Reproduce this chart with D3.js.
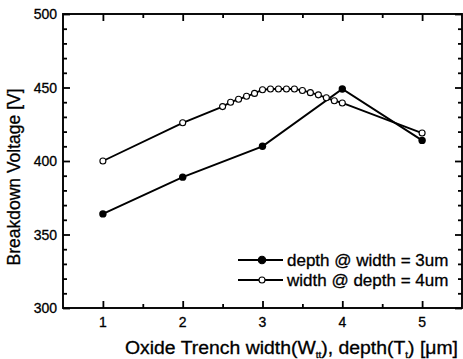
<!DOCTYPE html>
<html>
<head>
<meta charset="utf-8">
<script src="https://cdn.jsdelivr.net/npm/d3@7"></script>
<style>
  body { margin: 0; background: #fff; }
  text { font-family: "Liberation Sans", Arial, sans-serif; fill: #000; stroke: #000; stroke-width: 0.3px; }
</style>
</head>
<body>
<div id="chart"></div>
<script>
// depth @ width = 3um (filled markers)
var depthX = [1, 2, 3, 4, 5];
var depthY = [364, 389, 410, 449, 414];

// width @ depth = 4um (open markers)
var widthX = [1, 2, 2.5, 2.6, 2.7, 2.8, 2.9, 3.0, 3.1, 3.2, 3.3, 3.4, 3.5, 3.6, 3.7, 3.8, 3.9, 4.0, 5];
var widthY = [400, 426, 437, 440, 442, 444, 446, 448.5, 449, 449, 449, 449, 448, 446.5, 445, 443, 441, 439.5, 419];

var xTicks = [1, 2, 3, 4, 5];
var yTicks = [300, 350, 400, 450, 500];
var legendLabels = ["depth @ width = 3um", "width @ depth = 4um"];

var W = 463, H = 359;
var margin = {top: 14, right: 1, bottom: 51, left: 63},
    width = W - margin.left - margin.right,
    height = H - margin.top - margin.bottom;

var svg = d3.select("#chart").append("svg")
    .attr("width", W).attr("height", H)
  .append("g")
    .attr("transform", "translate(" + margin.left + "," + margin.top + ")");

var x = d3.scaleLinear().domain([0.5, 5.5]).range([0, width]);
var y = d3.scaleLinear().domain([300, 500]).range([height, 0]);

var xMinor = [1.5, 2.5, 3.5, 4.5];
var yMinor = d3.range(310, 500, 10).filter(function(d) { return yTicks.indexOf(d) < 0; });

// inward ticks on all four sides, drawn with d3 axes
function addAxis(axis, vals, size, tx, ty) {
  var g = svg.append("g")
      .attr("transform", "translate(" + tx + "," + ty + ")")
      .call(axis.tickValues(vals).tickSize(size).tickSizeOuter(0).tickFormat(""));
  g.select(".domain").remove();
  g.selectAll(".tick line").attr("stroke", "#000").attr("stroke-width", 1.8);
}
addAxis(d3.axisBottom(x), xTicks, -7, 0, height);
addAxis(d3.axisBottom(x), xMinor, -4, 0, height);
addAxis(d3.axisTop(x), xTicks, -7, 0, 0);
addAxis(d3.axisTop(x), xMinor, -4, 0, 0);
addAxis(d3.axisLeft(y), yTicks, -7, 0, 0);
addAxis(d3.axisLeft(y), yMinor, -4, 0, 0);
addAxis(d3.axisRight(y), yTicks, -7, width, 0);
addAxis(d3.axisRight(y), yMinor, -4, width, 0);

// frame
svg.append("rect")
    .attr("width", width).attr("height", height)
    .attr("fill", "none").attr("stroke", "#000").attr("stroke-width", 1.9);

// tick labels
svg.selectAll(".xl").data(xTicks).enter().append("text")
    .attr("x", function(d) { return x(d); })
    .attr("y", height + 19)
    .attr("text-anchor", "middle")
    .attr("font-size", 14)
    .text(function(d) { return d; });

svg.selectAll(".yl").data(yTicks).enter().append("text")
    .attr("x", -6)
    .attr("y", function(d) { return y(d) + 5; })
    .attr("text-anchor", "end")
    .attr("font-size", 14)
    .text(function(d) { return d; });

// axis titles
svg.append("text")
    .attr("transform", "translate(-43," + (177 - margin.top) + ") rotate(-90)")
    .attr("text-anchor", "middle")
    .attr("font-size", 17.5)
    .text("Breakdown Voltage [V]");

var xt = svg.append("text")
    .attr("x", 125 - margin.left)
    .attr("y", height + 46)
    .attr("font-size", 17.5)
    .attr("textLength", 333)
    .attr("lengthAdjust", "spacingAndGlyphs");
xt.append("tspan").text("Oxide Trench width(W");
xt.append("tspan").attr("font-size", 9).attr("dy", 4).text("tt");
xt.append("tspan").attr("dy", -4).text("), depth(T");
xt.append("tspan").attr("font-size", 9).attr("dy", 4).text("t");
xt.append("tspan").attr("dy", -4).text(") [\u03bcm]");

// series
var line = d3.line()
    .x(function(d) { return x(d[0]); })
    .y(function(d) { return y(d[1]); });

var depthData = d3.zip(depthX, depthY);
var widthData = d3.zip(widthX, widthY);

svg.append("path").datum(widthData).attr("d", line)
    .attr("fill", "none").attr("stroke", "#000").attr("stroke-width", 1.9);
svg.append("path").datum(depthData).attr("d", line)
    .attr("fill", "none").attr("stroke", "#000").attr("stroke-width", 1.9);

svg.selectAll(".wp").data(widthData).enter().append("circle")
    .attr("cx", function(d) { return x(d[0]); })
    .attr("cy", function(d) { return y(d[1]); })
    .attr("r", 3)
    .attr("fill", "#fff").attr("stroke", "#000").attr("stroke-width", 1.1);

svg.selectAll(".dp").data(depthData).enter().append("circle")
    .attr("cx", function(d) { return x(d[0]); })
    .attr("cy", function(d) { return y(d[1]); })
    .attr("r", 3.7)
    .attr("fill", "#000");

// legend
var lg = svg.append("g").attr("transform", "translate(" + (238 - margin.left) + "," + (260 - margin.top) + ")");
legendLabels.forEach(function(lab, i) {
  var row = lg.append("g").attr("transform", "translate(0," + (i * 20) + ")");
  row.append("line").attr("x1", 0).attr("x2", 45).attr("y1", 0).attr("y2", 0)
      .attr("stroke", "#000").attr("stroke-width", 1.9);
  row.append("circle").attr("cx", 24).attr("cy", 0).attr("r", i === 0 ? 3.7 : 3)
      .attr("fill", i === 0 ? "#000" : "#fff").attr("stroke", "#000").attr("stroke-width", 1.1);
  row.append("text").attr("x", 49).attr("y", 6).attr("font-size", 17).text(lab);
});
</script>
</body>
</html>
